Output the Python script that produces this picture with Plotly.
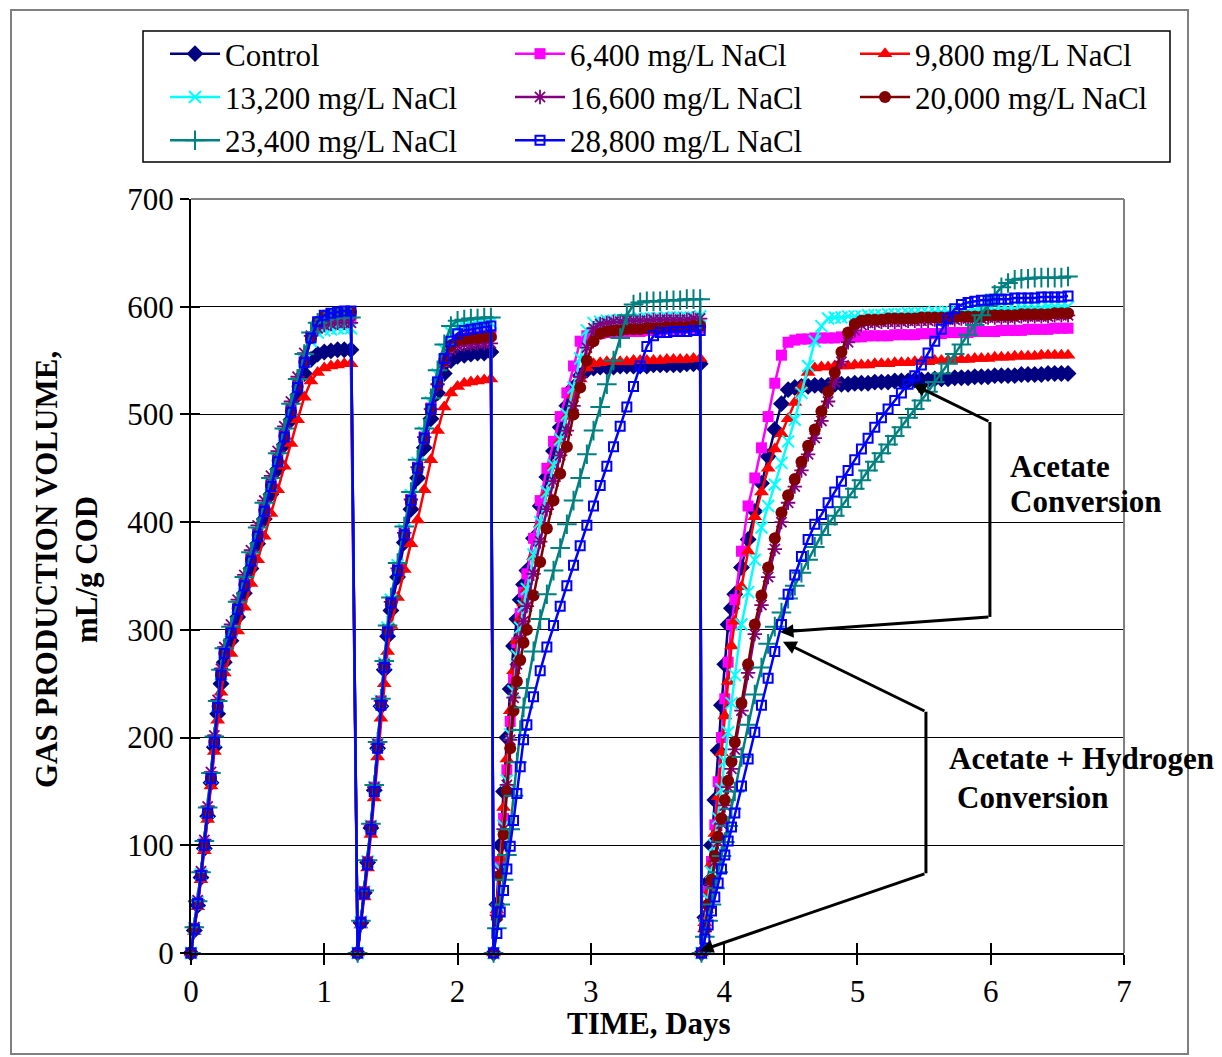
import plotly.graph_objects as go

# ---------------------------------------------------------------------------
# Sampling times (days) for the four feeding cycles
# ---------------------------------------------------------------------------
DAYS_CYCLE1 = [0, 0.025, 0.05, 0.075, 0.1, 0.125, 0.15, 0.175, 0.2, 0.225, 0.25,
               0.3, 0.35, 0.4, 0.45, 0.5, 0.55, 0.6, 0.65, 0.7, 0.75, 0.8, 0.85,
               0.9, 0.95, 1.0, 1.05, 1.1, 1.15, 1.2]
DAYS_CYCLE2 = [1.25, 1.275, 1.3, 1.325, 1.35, 1.375, 1.4, 1.425, 1.45, 1.475, 1.5,
               1.55, 1.6, 1.65, 1.7, 1.75, 1.8, 1.85, 1.9, 1.95, 2.0, 2.05, 2.1,
               2.15, 2.2, 2.25]
DAYS_CYCLE3 = [2.27, 2.295, 2.32, 2.345, 2.37, 2.395, 2.42, 2.445, 2.47, 2.495, 2.52,
               2.57, 2.62, 2.67, 2.72, 2.77, 2.82, 2.87, 2.92, 2.97, 3.02, 3.07,
               3.12, 3.17, 3.22, 3.27, 3.32, 3.37, 3.42, 3.47, 3.52, 3.57, 3.62,
               3.67, 3.72, 3.77, 3.82]
DAYS_CYCLE4 = [3.83, 3.855, 3.88, 3.905, 3.93, 3.955, 3.98, 4.005, 4.03, 4.055, 4.08,
               4.13, 4.18, 4.23, 4.28, 4.33, 4.38, 4.43, 4.48, 4.53, 4.58, 4.63,
               4.68, 4.73, 4.78, 4.83, 4.88, 4.93, 4.98, 5.03, 5.08, 5.13, 5.18,
               5.23, 5.28, 5.33, 5.38, 5.43, 5.48, 5.53, 5.58, 5.63, 5.68, 5.73,
               5.78, 5.83, 5.88, 5.93, 5.98, 6.03, 6.08, 6.13, 6.18, 6.23, 6.28,
               6.33, 6.38, 6.43, 6.48, 6.53, 6.58]
DAYS = DAYS_CYCLE1 + DAYS_CYCLE2 + DAYS_CYCLE3 + DAYS_CYCLE4

# ---------------------------------------------------------------------------
# Cumulative gas production (mL/g COD); one row per feeding cycle
# ---------------------------------------------------------------------------
CONTROL = (
    [0, 21, 44, 70, 97, 127, 158, 191, 222, 250, 270, 290, 312, 334, 357, 380, 403, 426,
     449, 472, 495, 518, 538, 551, 556, 558, 559, 560, 560, 560]
    + [0, 28, 56, 84, 116, 151, 190, 229, 263, 294, 318, 349, 381, 412, 441, 469, 496,
       520, 538, 550, 554, 555, 556, 557, 557, 558]
    + [0, 45, 100, 150, 200, 245, 285, 310, 328, 342, 355, 385, 415, 442, 466, 488, 508,
       525, 536, 541, 543, 544, 544, 544, 545, 545, 545, 545, 545, 546, 546, 546, 546,
       546, 547, 547, 547]
    + [0, 33, 66, 100, 142, 188, 230, 268, 305, 320, 333, 358, 384, 410, 436, 461, 486,
       510, 523, 525, 526, 526, 527, 527, 527, 528, 528, 528, 529, 529, 529, 530, 530,
       530, 531, 531, 531, 532, 532, 532, 533, 533, 533, 534, 534, 534, 535, 535, 535,
       536, 536, 536, 536, 537, 537, 537, 537, 538, 538, 538, 538]
)
NACL_6400 = (
    [0, 23, 47, 73, 102, 132, 164, 198, 231, 260, 280, 300, 322, 344, 367, 390, 413, 436,
     459, 482, 505, 528, 551, 572, 584, 588, 589, 590, 590, 591]
    + [0, 29, 57, 85, 118, 154, 194, 234, 268, 300, 326, 357, 390, 421, 451, 479, 506,
       530, 551, 565, 570, 572, 573, 573, 574, 574]
    + [0, 40, 85, 125, 170, 215, 255, 288, 315, 335, 352, 385, 420, 450, 475, 498, 520,
       545, 568, 573, 575, 575, 576, 576, 576, 577, 577, 577, 578, 578, 578, 579, 579,
       579, 580, 580, 580]
    + [0, 28, 57, 85, 119, 159, 200, 236, 270, 305, 328, 373, 415, 441, 469, 498, 529,
       555, 567, 569, 570, 570, 571, 571, 571, 571, 572, 572, 572, 572, 573, 573, 573,
       573, 574, 574, 574, 574, 575, 575, 575, 575, 576, 576, 576, 576, 577, 577, 577,
       577, 578, 578, 578, 578, 579, 579, 579, 579, 580, 580, 580]
)
NACL_9800 = (
    [0, 20, 43, 68, 95, 124, 155, 187, 216, 242, 260, 278, 299, 321, 343, 365, 387, 408,
     430, 452, 473, 495, 516, 531, 539, 543, 545, 546, 547, 547]
    + [0, 26, 52, 79, 110, 144, 182, 218, 250, 280, 304, 330, 356, 380, 402, 430, 458,
       485, 507, 520, 526, 529, 530, 531, 532, 533]
    + [0, 40, 88, 135, 180, 225, 262, 290, 310, 325, 338, 368, 398, 427, 452, 476, 498,
       518, 533, 543, 547, 548, 549, 549, 549, 549, 550, 550, 550, 550, 550, 551, 551,
       551, 551, 552, 552]
    + [0, 28, 56, 83, 111, 145, 186, 220, 252, 285, 308, 340, 373, 405, 428, 450, 468,
       482, 496, 511, 526, 539, 543, 544, 544, 545, 545, 545, 546, 546, 546, 547, 547,
       547, 548, 548, 548, 549, 549, 549, 550, 550, 550, 551, 551, 551, 552, 552, 552,
       553, 553, 553, 554, 554, 554, 554, 555, 555, 555, 555, 555]
)
NACL_13200 = (
    [0, 23, 47, 73, 101, 131, 163, 197, 230, 259, 279, 299, 321, 343, 366, 389, 412, 435,
     458, 481, 504, 527, 550, 568, 576, 578, 579, 580, 580, 580]
    + [0, 29, 57, 85, 118, 154, 194, 234, 269, 302, 328, 360, 393, 425, 455, 483, 511,
       537, 560, 576, 581, 582, 583, 584, 584, 585]
    + [0, 36, 78, 118, 160, 203, 243, 276, 302, 322, 338, 370, 400, 428, 453, 477, 500,
       525, 552, 578, 585, 586, 587, 587, 588, 588, 588, 589, 589, 589, 589, 590, 590,
       590, 590, 590, 591]
    + [0, 25, 50, 75, 100, 125, 152, 178, 205, 232, 258, 305, 335, 365, 395, 415, 435,
       455, 475, 495, 520, 545, 568, 582, 589, 590, 590, 591, 591, 591, 592, 592, 592,
       593, 593, 593, 594, 594, 594, 594, 595, 595, 595, 596, 596, 596, 597, 597, 597,
       597, 598, 598, 598, 599, 599, 599, 599, 600, 600, 600, 600]
)
NACL_16600 = (
    [0, 24, 49, 76, 105, 136, 168, 202, 235, 264, 284, 305, 328, 351, 374, 397, 420, 443,
     466, 489, 512, 535, 557, 573, 580, 583, 584, 585, 585, 585]
    + [0, 29, 57, 85, 118, 154, 194, 234, 268, 300, 326, 357, 390, 421, 451, 479, 505,
       528, 548, 560, 564, 565, 565, 566, 566, 566]
    + [0, 35, 75, 115, 156, 198, 237, 268, 292, 308, 322, 352, 382, 412, 438, 462, 485,
       508, 535, 562, 580, 584, 585, 586, 586, 587, 587, 587, 587, 588, 588, 588, 588,
       588, 588, 589, 589]
    + [0, 20, 42, 64, 85, 103, 120, 137, 154, 171, 189, 225, 260, 296, 323, 349, 375,
       400, 418, 433, 448, 463, 478, 494, 512, 530, 549, 567, 578, 583, 585, 585, 586,
       586, 586, 586, 587, 587, 587, 587, 588, 588, 588, 588, 589, 589, 589, 589, 590,
       590, 590, 590, 590, 591, 591, 591, 591, 591, 592, 592, 592]
)
NACL_20000 = (
    [0, 22, 46, 72, 100, 130, 162, 196, 229, 258, 278, 298, 320, 342, 365, 388, 411, 434,
     457, 480, 503, 526, 549, 571, 586, 591, 593, 594, 594, 595]
    + [0, 28, 56, 84, 117, 152, 192, 232, 266, 298, 324, 355, 388, 419, 449, 477, 504,
       528, 550, 564, 569, 570, 571, 571, 572, 572]
    + [0, 33, 72, 110, 150, 190, 225, 252, 272, 288, 300, 332, 363, 394, 420, 445, 470,
       500, 525, 550, 568, 575, 577, 578, 578, 579, 579, 579, 580, 580, 580, 581, 581,
       581, 581, 582, 582]
    + [0, 22, 45, 68, 90, 108, 125, 142, 160, 178, 196, 232, 268, 305, 332, 358, 385,
       409, 425, 440, 456, 471, 486, 503, 521, 539, 558, 576, 584, 587, 588, 588, 588,
       589, 589, 589, 589, 589, 590, 590, 590, 590, 590, 591, 591, 591, 591, 591, 592,
       592, 592, 592, 592, 593, 593, 593, 593, 593, 594, 594, 594]
)
NACL_23400 = (
    [0, 24, 48, 75, 104, 135, 167, 201, 234, 263, 283, 303, 326, 349, 372, 395, 418, 441,
     464, 487, 510, 533, 556, 576, 585, 588, 589, 590, 590, 590]
    + [0, 30, 58, 86, 120, 156, 196, 236, 271, 304, 330, 362, 396, 428, 458, 487, 515,
       541, 565, 582, 587, 588, 589, 589, 590, 590]
    + [0, 23, 45, 68, 91, 115, 146, 177, 207, 228, 246, 280, 310, 333, 355, 376, 398,
       420, 441, 463, 485, 507, 528, 550, 571, 592, 602, 604, 605, 605, 605, 606, 606,
       606, 607, 607, 607]
    + [0, 15, 30, 45, 60, 75, 90, 103, 118, 134, 150, 182, 212, 240, 265, 287, 303, 316,
       329, 341, 353, 365, 377, 388, 398, 406, 414, 423, 431, 439, 448, 456, 464, 472,
       480, 488, 497, 505, 513, 521, 530, 538, 547, 556, 565, 574, 583, 592, 601, 611,
       618, 622, 625, 626, 626, 627, 627, 627, 627, 627, 628]
)
NACL_28800 = (
    [0, 22, 46, 72, 100, 130, 162, 196, 228, 258, 278, 297, 319, 341, 364, 387, 410, 433,
     456, 479, 502, 525, 548, 571, 586, 592, 594, 595, 596, 596]
    + [0, 28, 55, 82, 115, 150, 190, 230, 265, 298, 325, 355, 388, 420, 450, 478, 505,
       530, 552, 568, 575, 578, 579, 580, 581, 582]
    + [0, 18, 38, 58, 78, 99, 123, 148, 173, 198, 212, 238, 262, 284, 304, 322, 341, 360,
       378, 397, 415, 434, 452, 470, 489, 507, 526, 545, 563, 573, 576, 576, 577, 577,
       577, 578, 578]
    + [0, 13, 26, 39, 52, 65, 78, 91, 104, 117, 130, 155, 180, 205, 230, 255, 280, 305,
       333, 351, 368, 384, 398, 407, 418, 428, 438, 448, 458, 468, 478, 488, 497, 505,
       513, 520, 528, 536, 546, 557, 568, 579, 589, 598, 602, 604, 605, 606, 606, 607,
       607, 607, 608, 608, 608, 608, 609, 609, 609, 609, 610]
)

SERIES_NAMES = ["Control", "6,400 mg/L NaCl", "9,800 mg/L NaCl", "13,200 mg/L NaCl",
                "16,600 mg/L NaCl", "20,000 mg/L NaCl", "23,400 mg/L NaCl",
                "28,800 mg/L NaCl"]
SERIES_VALUES = [CONTROL, NACL_6400, NACL_9800, NACL_13200, NACL_16600, NACL_20000,
                 NACL_23400, NACL_28800]

X_TICKS = [0, 1, 2, 3, 4, 5, 6, 7]
Y_TICKS = [0, 100, 200, 300, 400, 500, 600, 700]

# ---------------------------------------------------------------------------
# Styling
# ---------------------------------------------------------------------------
SERIF = "Liberation Serif, Times New Roman, serif"
STYLES = [
    dict(color="#000080", symbol="diamond", size=13, lw=0),
    dict(color="#FF00FF", symbol="square", size=11, lw=0),
    dict(color="#FF0000", symbol="triangle-up", size=13, lw=0),
    dict(color="#00FFFF", symbol="x-thin", size=12, lw=2),
    dict(color="#800080", symbol="asterisk", size=12, lw=1.8),
    dict(color="#800000", symbol="circle", size=12, lw=0),
    dict(color="#008080", symbol="cross-thin", size=14, lw=2),
    dict(color="#0000FF", symbol="square-open", size=9, lw=2),
]

W, H = 1222, 1057
ML, MR, MT, MB = 191, 98, 199, 104
PW, PH = W - ML - MR, H - MT - MB


def px_x(p):
    """Pixel column -> paper x."""
    return (p - ML) / PW


def px_y(p):
    """Pixel row -> paper y."""
    return (H - MB - p) / PH


fig = go.Figure()
for name, vals, st in zip(SERIES_NAMES, SERIES_VALUES, STYLES):
    fig.add_trace(go.Scatter(
        x=DAYS, y=vals, name=name, mode="lines+markers",
        line=dict(color=st["color"], width=2.5),
        marker=dict(symbol=st["symbol"], size=st["size"], color=st["color"],
                    line=dict(color=st["color"], width=st["lw"])),
        cliponaxis=False,
    ))

# invisible carrier for the secondary (inside-tick) axes
fig.add_trace(go.Scatter(x=[None], y=[None], xaxis="x2", yaxis="y2",
                         showlegend=False, hoverinfo="skip"))

axis_font = dict(family=SERIF, size=31, color="black")
fig.update_layout(
    width=W, height=H,
    margin=dict(l=ML, r=MR, t=MT, b=MB, autoexpand=False),
    paper_bgcolor="white", plot_bgcolor="white",
    showlegend=True,
    xaxis=dict(range=[0, 7], tickvals=X_TICKS, ticks="outside", ticklen=10,
               tickwidth=1.5, tickcolor="black", showline=True, linecolor="black",
               linewidth=2, showgrid=False, zeroline=False, tickfont=axis_font),
    yaxis=dict(range=[0, 700], tickvals=Y_TICKS, ticks="outside", ticklen=9,
               tickwidth=1.5, tickcolor="black", showline=True, linecolor="black",
               linewidth=2, showgrid=True, gridcolor="black", gridwidth=1,
               zeroline=False, tickfont=axis_font),
    xaxis2=dict(range=[0, 7], overlaying="x", anchor="y2", side="bottom",
                tickvals=X_TICKS, ticks="inside", ticklen=10, tickwidth=1.5,
                tickcolor="black", showticklabels=False, showgrid=False,
                showline=False, zeroline=False),
    yaxis2=dict(range=[0, 700], overlaying="y", anchor="x2", side="left",
                tickvals=Y_TICKS, ticks="inside", ticklen=9, tickwidth=1.5,
                tickcolor="black", showticklabels=False, showgrid=False,
                showline=False, zeroline=False),
    legend=dict(orientation="h", x=px_x(165), y=px_y(27), xanchor="left",
                yanchor="top", bgcolor="rgba(0,0,0,0)", borderwidth=0,
                itemwidth=50, entrywidth=280, entrywidthmode="pixels",
                font=dict(family=SERIF, size=31, color="black"),
                traceorder="normal"),
)

shapes = [
    # outer chart frame
    dict(type="rect", xref="paper", yref="paper", x0=px_x(11), x1=px_x(1188),
         y0=px_y(1054), y1=px_y(10), line=dict(color="#808080", width=2)),
    # legend frame
    dict(type="rect", xref="paper", yref="paper", x0=px_x(143), x1=px_x(1170),
         y0=px_y(162), y1=px_y(31), line=dict(color="black", width=1.5)),
    # plot area frame (top and right)
    dict(type="line", xref="paper", yref="paper", x0=0, x1=1, y0=1, y1=1,
         line=dict(color="#808080", width=2), layer="above"),
    dict(type="line", xref="paper", yref="paper", x0=1, x1=1, y0=0, y1=1,
         line=dict(color="#808080", width=2), layer="above"),
    # bracket uprights of the two call-outs
    dict(type="line", xref="x", yref="y", x0=5.994, x1=5.994, y0=493, y1=312,
         line=dict(color="black", width=3), layer="above"),
    dict(type="line", xref="x", yref="y", x0=5.514, x1=5.514, y0=224, y1=74,
         line=dict(color="black", width=3), layer="above"),
]
fig.update_layout(shapes=shapes)

annotations = []
# call-out arrows: (tip_x, tip_y, tail_x, tail_y) in data units
ARROWS = [
    (5.416, 528, 5.994, 493),
    (4.419, 298, 5.994, 312),
    (4.441, 289, 5.514, 224),
    (3.818, 2, 5.514, 74),
]
for tx, ty, ax, ay in ARROWS:
    annotations.append(dict(
        x=tx, y=ty, xref="x", yref="y", ax=ax, ay=ay, axref="x", ayref="y",
        text="", showarrow=True, arrowhead=2, arrowsize=0.9, arrowwidth=3,
        arrowcolor="black", standoff=0, startstandoff=0))

bold_font = dict(family=SERIF, size=31, color="black")
for txt, px, py in [("Acetate", 1008, 466), ("Conversion", 1008, 501),
                    ("Acetate + Hydrogen", 947, 758), ("Conversion", 955, 797)]:
    annotations.append(dict(
        x=px_x(px), y=px_y(py), xref="paper", yref="paper", text="<b>%s</b>" % txt,
        showarrow=False, xanchor="left", yanchor="middle", font=bold_font))

# axis titles
annotations.append(dict(
    x=px_x(649), y=px_y(1023), xref="paper", yref="paper",
    text="<b>TIME, Days</b>", showarrow=False, xanchor="center", yanchor="middle",
    font=bold_font))
annotations.append(dict(
    x=px_x(66), y=px_y(570), xref="paper", yref="paper",
    text="<b>GAS PRODUCTION VOLUME,<br>mL/g COD</b>", showarrow=False,
    textangle=-90, xanchor="center", yanchor="middle", font=bold_font))

fig.update_layout(annotations=annotations)

fig.write_html("out.html")
